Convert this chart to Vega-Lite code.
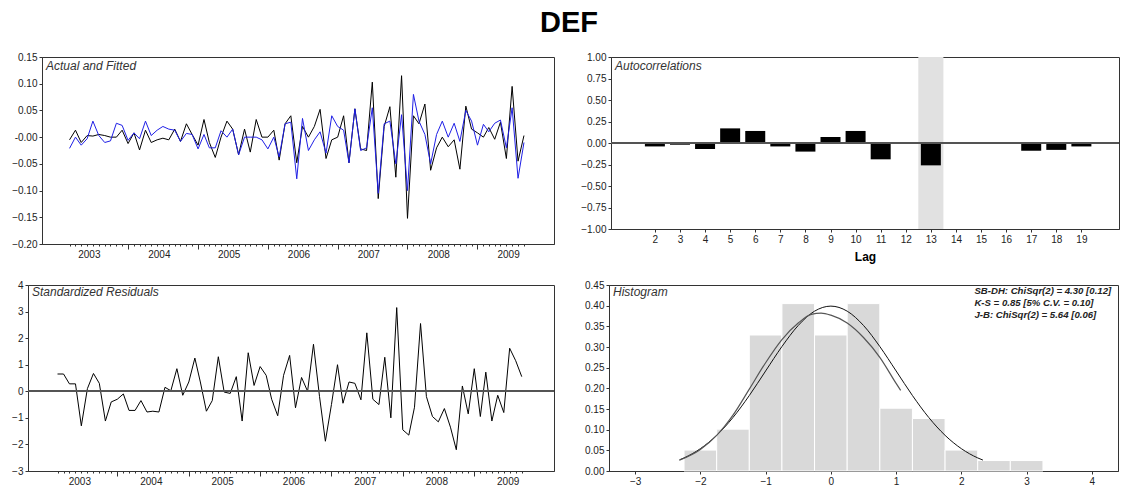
{
  "$schema": "https://vega.github.io/schema/vega-lite/v6.json",
  "background": "white",
  "padding": {"left": 0, "top": 8, "right": 5, "bottom": 5},
  "title": {"text": "DEF", "fontSize": 29, "fontWeight": "bold", "font": "Liberation Sans", "anchor": "middle", "offset": 14, "color": "#000", "dx": 9},
  "datasets": {
    "ts": [
      {"date": "2003-03-01", "actual": -0.005, "fitted": -0.021, "resid": 0.65},
      {"date": "2003-04-01", "actual": 0.013, "fitted": 0.0, "resid": 0.65},
      {"date": "2003-05-01", "actual": -0.01, "fitted": -0.015, "resid": 0.28},
      {"date": "2003-06-01", "actual": 0.003, "fitted": -0.003, "resid": 0.28},
      {"date": "2003-07-01", "actual": 0.002, "fitted": 0.03, "resid": -1.3},
      {"date": "2003-08-01", "actual": 0.005, "fitted": 0.003, "resid": 0.1},
      {"date": "2003-09-01", "actual": 0.003, "fitted": -0.01, "resid": 0.67},
      {"date": "2003-10-01", "actual": 0.0, "fitted": -0.007, "resid": 0.3},
      {"date": "2003-11-01", "actual": 0.0, "fitted": 0.026, "resid": -1.12},
      {"date": "2003-12-01", "actual": 0.013, "fitted": 0.022, "resid": -0.4},
      {"date": "2004-01-01", "actual": -0.012, "fitted": -0.006, "resid": -0.3},
      {"date": "2004-02-01", "actual": 0.008, "fitted": 0.008, "resid": -0.1},
      {"date": "2004-03-01", "actual": -0.024, "fitted": -0.003, "resid": -0.72},
      {"date": "2004-04-01", "actual": 0.013, "fitted": 0.03, "resid": -0.72},
      {"date": "2004-05-01", "actual": -0.01, "fitted": 0.003, "resid": -0.35},
      {"date": "2004-06-01", "actual": -0.005, "fitted": 0.013, "resid": -0.78},
      {"date": "2004-07-01", "actual": -0.002, "fitted": 0.02, "resid": -0.75},
      {"date": "2004-08-01", "actual": -0.005, "fitted": 0.015, "resid": -0.78},
      {"date": "2004-09-01", "actual": 0.015, "fitted": 0.013, "resid": 0.15},
      {"date": "2004-10-01", "actual": -0.008, "fitted": -0.008, "resid": 0.02},
      {"date": "2004-11-01", "actual": 0.025, "fitted": 0.007, "resid": 0.85},
      {"date": "2004-12-01", "actual": 0.005, "fitted": 0.005, "resid": -0.15},
      {"date": "2005-01-01", "actual": -0.015, "fitted": -0.022, "resid": 0.35},
      {"date": "2005-02-01", "actual": 0.033, "fitted": 0.005, "resid": 1.25},
      {"date": "2005-03-01", "actual": -0.01, "fitted": -0.02, "resid": 0.35},
      {"date": "2005-04-01", "actual": -0.038, "fitted": -0.02, "resid": -0.75},
      {"date": "2005-05-01", "actual": 0.0, "fitted": 0.012, "resid": -0.35},
      {"date": "2005-06-01", "actual": 0.03, "fitted": 0.0, "resid": 1.3},
      {"date": "2005-07-01", "actual": 0.015, "fitted": 0.015, "resid": -0.03},
      {"date": "2005-08-01", "actual": -0.033, "fitted": -0.033, "resid": -0.08},
      {"date": "2005-09-01", "actual": 0.015, "fitted": 0.0, "resid": 0.55},
      {"date": "2005-10-01", "actual": -0.028, "fitted": 0.0, "resid": -1.12},
      {"date": "2005-11-01", "actual": 0.033, "fitted": 0.0, "resid": 1.45},
      {"date": "2005-12-01", "actual": 0.0, "fitted": -0.005, "resid": 0.22},
      {"date": "2006-01-01", "actual": 0.0, "fitted": -0.022, "resid": 0.93},
      {"date": "2006-02-01", "actual": 0.013, "fitted": 0.0, "resid": 0.6},
      {"date": "2006-03-01", "actual": -0.043, "fitted": -0.037, "resid": -0.3},
      {"date": "2006-04-01", "actual": 0.025, "fitted": 0.025, "resid": -0.92},
      {"date": "2006-05-01", "actual": 0.04, "fitted": 0.028, "resid": 0.6},
      {"date": "2006-06-01", "actual": -0.048, "fitted": -0.078, "resid": 1.35},
      {"date": "2006-07-01", "actual": 0.02, "fitted": 0.035, "resid": -0.62},
      {"date": "2006-08-01", "actual": 0.0, "fitted": -0.025, "resid": 0.52},
      {"date": "2006-09-01", "actual": 0.02, "fitted": -0.005, "resid": 0.0},
      {"date": "2006-10-01", "actual": 0.052, "fitted": 0.01, "resid": 1.77},
      {"date": "2006-11-01", "actual": -0.04, "fitted": -0.03, "resid": -0.2},
      {"date": "2006-12-01", "actual": -0.005, "fitted": 0.04, "resid": -1.88},
      {"date": "2007-01-01", "actual": 0.0, "fitted": 0.02, "resid": -0.5},
      {"date": "2007-02-01", "actual": 0.04, "fitted": 0.013, "resid": 1.0},
      {"date": "2007-03-01", "actual": -0.048, "fitted": -0.048, "resid": -0.45},
      {"date": "2007-04-01", "actual": 0.053, "fitted": 0.053, "resid": 0.35},
      {"date": "2007-05-01", "actual": -0.022, "fitted": -0.025, "resid": 0.3},
      {"date": "2007-06-01", "actual": -0.025, "fitted": -0.02, "resid": -0.32},
      {"date": "2007-07-01", "actual": 0.103, "fitted": 0.055, "resid": 2.2},
      {"date": "2007-08-01", "actual": -0.115, "fitted": -0.105, "resid": -0.3},
      {"date": "2007-09-01", "actual": 0.02, "fitted": 0.025, "resid": -0.5},
      {"date": "2007-10-01", "actual": 0.057, "fitted": 0.03, "resid": 1.28},
      {"date": "2007-11-01", "actual": -0.075, "fitted": -0.05, "resid": -1.0},
      {"date": "2007-12-01", "actual": 0.115, "fitted": 0.042, "resid": 3.15},
      {"date": "2008-01-01", "actual": -0.152, "fitted": -0.1, "resid": -1.45},
      {"date": "2008-02-01", "actual": 0.04, "fitted": 0.08, "resid": -1.65},
      {"date": "2008-03-01", "actual": 0.025, "fitted": 0.03, "resid": -0.6},
      {"date": "2008-04-01", "actual": 0.062, "fitted": 0.005, "resid": 2.55},
      {"date": "2008-05-01", "actual": -0.062, "fitted": -0.05, "resid": -0.2},
      {"date": "2008-06-01", "actual": -0.02, "fitted": 0.005, "resid": -0.95},
      {"date": "2008-07-01", "actual": 0.0, "fitted": 0.03, "resid": -1.15},
      {"date": "2008-08-01", "actual": -0.018, "fitted": 0.0, "resid": -0.65},
      {"date": "2008-09-01", "actual": -0.005, "fitted": 0.026, "resid": -1.35},
      {"date": "2008-10-01", "actual": -0.06, "fitted": -0.008, "resid": -2.2},
      {"date": "2008-11-01", "actual": 0.058, "fitted": 0.05, "resid": 0.2},
      {"date": "2008-12-01", "actual": 0.015, "fitted": 0.03, "resid": -0.85},
      {"date": "2009-01-01", "actual": 0.008, "fitted": -0.015, "resid": 0.85},
      {"date": "2009-02-01", "actual": 0.0, "fitted": 0.024, "resid": -0.95},
      {"date": "2009-03-01", "actual": 0.018, "fitted": 0.01, "resid": 0.72},
      {"date": "2009-04-01", "actual": -0.004, "fitted": 0.026, "resid": -1.12},
      {"date": "2009-05-01", "actual": 0.028, "fitted": 0.032, "resid": -0.15},
      {"date": "2009-06-01", "actual": -0.04, "fitted": -0.02, "resid": -0.8},
      {"date": "2009-07-01", "actual": 0.095, "fitted": 0.055, "resid": 1.62},
      {"date": "2009-08-01", "actual": -0.045, "fitted": -0.077, "resid": 1.15},
      {"date": "2009-09-01", "actual": 0.003, "fitted": -0.01, "resid": 0.55}
    ],
    "acf": [
      {"lag": 2, "acf": -0.04}, {"lag": 3, "acf": -0.02}, {"lag": 4, "acf": -0.07},
      {"lag": 5, "acf": 0.17}, {"lag": 6, "acf": 0.14}, {"lag": 7, "acf": -0.04},
      {"lag": 8, "acf": -0.1}, {"lag": 9, "acf": 0.07}, {"lag": 10, "acf": 0.14},
      {"lag": 11, "acf": -0.19}, {"lag": 12, "acf": 0.0}, {"lag": 13, "acf": -0.26},
      {"lag": 14, "acf": 0.0}, {"lag": 15, "acf": 0.0}, {"lag": 16, "acf": 0.0},
      {"lag": 17, "acf": -0.09}, {"lag": 18, "acf": -0.08}, {"lag": 19, "acf": -0.04}
    ],
    "hist": [
      {"lo": -2.25, "hi": -1.75, "density": 0.0506},
      {"lo": -1.75, "hi": -1.25, "density": 0.1013},
      {"lo": -1.25, "hi": -0.75, "density": 0.329},
      {"lo": -0.75, "hi": -0.25, "density": 0.405},
      {"lo": -0.25, "hi": 0.25, "density": 0.329},
      {"lo": 0.25, "hi": 0.75, "density": 0.405},
      {"lo": 0.75, "hi": 1.25, "density": 0.152},
      {"lo": 1.25, "hi": 1.75, "density": 0.127},
      {"lo": 1.75, "hi": 2.25, "density": 0.0506},
      {"lo": 2.25, "hi": 2.75, "density": 0.0253},
      {"lo": 2.75, "hi": 3.25, "density": 0.0253}
    ],
    "normal": [
      {"x": -2.32, "d": 0.027}, {"x": -2.25, "d": 0.0317}, {"x": -2.0, "d": 0.054},
      {"x": -1.75, "d": 0.0863}, {"x": -1.5, "d": 0.1295}, {"x": -1.25, "d": 0.1826},
      {"x": -1.0, "d": 0.242}, {"x": -0.75, "d": 0.3011}, {"x": -0.5, "d": 0.3521},
      {"x": -0.25, "d": 0.3867}, {"x": 0.0, "d": 0.3989}, {"x": 0.25, "d": 0.3867},
      {"x": 0.5, "d": 0.3521}, {"x": 0.75, "d": 0.3011}, {"x": 1.0, "d": 0.242},
      {"x": 1.25, "d": 0.1826}, {"x": 1.5, "d": 0.1295}, {"x": 1.75, "d": 0.0863},
      {"x": 2.0, "d": 0.054}, {"x": 2.25, "d": 0.0317}, {"x": 2.33, "d": 0.0264}
    ],
    "kernel": [
      {"x": -2.32, "d": 0.026}, {"x": -2.0, "d": 0.052}, {"x": -1.75, "d": 0.086},
      {"x": -1.5, "d": 0.135}, {"x": -1.25, "d": 0.198}, {"x": -1.0, "d": 0.262},
      {"x": -0.75, "d": 0.318}, {"x": -0.5, "d": 0.358}, {"x": -0.3, "d": 0.379},
      {"x": -0.15, "d": 0.382}, {"x": 0.0, "d": 0.377}, {"x": 0.25, "d": 0.358},
      {"x": 0.5, "d": 0.323}, {"x": 0.75, "d": 0.275}, {"x": 1.0, "d": 0.212},
      {"x": 1.07, "d": 0.195}
    ],
    "notes": [
      {"note": "SB-DH: ChiSqr(2) = 4.30 [0.12]\nK-S = 0.85 [5% C.V. = 0.10]\nJ-B: ChiSqr(2) = 5.64 [0.06]"}
    ],
    "band": [{"lo": 12.5, "hi": 13.5}]
  },
  "columns": 3,
  "align": "none",
  "spacing": {"row": 14, "column": 2},
  "concat": [
    {
      "width": 1, "height": 1, "view": {"stroke": null},
      "data": {"name": "band"},
      "mark": {"type": "point", "opacity": 0, "size": 0, "strokeWidth": 0},
      "encoding": {}
    },
    {
      "width": 512,
      "height": 187,
      "title": {"text": "Actual and Fitted", "anchor": "start", "frame": "group", "orient": "top", "offset": -21, "dx": 4, "fontSize": 12, "fontStyle": "italic", "fontWeight": "normal", "color": "#333", "font": "Liberation Sans"},
      "data": {"name": "ts"},
      "encoding": {
        "x": {
          "field": "date", "type": "temporal",
          "scale": {"type": "utc", "domain": [{"year": 2002, "month": 10, "date": 8, "utc": true}, {"year": 2010, "month": 2, "date": 5, "utc": true}]},
          "axis": {
            "title": null, "grid": false, "labelOverlap": false, "labelFlush": false, "labelPadding": 3, "labelOffset": -4, "minExtent": 20, "maxExtent": 20, "tickCount": 200,
            "values": [
              {"year": 2003, "month": 3, "utc": true}, {"year": 2003, "month": 4, "utc": true}, {"year": 2003, "month": 5, "utc": true}, {"year": 2003, "month": 6, "utc": true}, {"year": 2003, "month": 7, "utc": true}, {"year": 2003, "month": 8, "utc": true}, {"year": 2003, "month": 9, "utc": true}, {"year": 2003, "month": 10, "utc": true}, {"year": 2003, "month": 11, "utc": true}, {"year": 2003, "month": 12, "utc": true},
              {"year": 2004, "month": 1, "utc": true}, {"year": 2004, "month": 2, "utc": true}, {"year": 2004, "month": 3, "utc": true}, {"year": 2004, "month": 4, "utc": true}, {"year": 2004, "month": 5, "utc": true}, {"year": 2004, "month": 6, "utc": true}, {"year": 2004, "month": 7, "utc": true}, {"year": 2004, "month": 8, "utc": true}, {"year": 2004, "month": 9, "utc": true}, {"year": 2004, "month": 10, "utc": true}, {"year": 2004, "month": 11, "utc": true}, {"year": 2004, "month": 12, "utc": true},
              {"year": 2005, "month": 1, "utc": true}, {"year": 2005, "month": 2, "utc": true}, {"year": 2005, "month": 3, "utc": true}, {"year": 2005, "month": 4, "utc": true}, {"year": 2005, "month": 5, "utc": true}, {"year": 2005, "month": 6, "utc": true}, {"year": 2005, "month": 7, "utc": true}, {"year": 2005, "month": 8, "utc": true}, {"year": 2005, "month": 9, "utc": true}, {"year": 2005, "month": 10, "utc": true}, {"year": 2005, "month": 11, "utc": true}, {"year": 2005, "month": 12, "utc": true},
              {"year": 2006, "month": 1, "utc": true}, {"year": 2006, "month": 2, "utc": true}, {"year": 2006, "month": 3, "utc": true}, {"year": 2006, "month": 4, "utc": true}, {"year": 2006, "month": 5, "utc": true}, {"year": 2006, "month": 6, "utc": true}, {"year": 2006, "month": 7, "utc": true}, {"year": 2006, "month": 8, "utc": true}, {"year": 2006, "month": 9, "utc": true}, {"year": 2006, "month": 10, "utc": true}, {"year": 2006, "month": 11, "utc": true}, {"year": 2006, "month": 12, "utc": true},
              {"year": 2007, "month": 1, "utc": true}, {"year": 2007, "month": 2, "utc": true}, {"year": 2007, "month": 3, "utc": true}, {"year": 2007, "month": 4, "utc": true}, {"year": 2007, "month": 5, "utc": true}, {"year": 2007, "month": 6, "utc": true}, {"year": 2007, "month": 7, "utc": true}, {"year": 2007, "month": 8, "utc": true}, {"year": 2007, "month": 9, "utc": true}, {"year": 2007, "month": 10, "utc": true}, {"year": 2007, "month": 11, "utc": true}, {"year": 2007, "month": 12, "utc": true},
              {"year": 2008, "month": 1, "utc": true}, {"year": 2008, "month": 2, "utc": true}, {"year": 2008, "month": 3, "utc": true}, {"year": 2008, "month": 4, "utc": true}, {"year": 2008, "month": 5, "utc": true}, {"year": 2008, "month": 6, "utc": true}, {"year": 2008, "month": 7, "utc": true}, {"year": 2008, "month": 8, "utc": true}, {"year": 2008, "month": 9, "utc": true}, {"year": 2008, "month": 10, "utc": true}, {"year": 2008, "month": 11, "utc": true}, {"year": 2008, "month": 12, "utc": true},
              {"year": 2009, "month": 1, "utc": true}, {"year": 2009, "month": 2, "utc": true}, {"year": 2009, "month": 3, "utc": true}, {"year": 2009, "month": 4, "utc": true}, {"year": 2009, "month": 5, "utc": true}, {"year": 2009, "month": 6, "utc": true}, {"year": 2009, "month": 7, "utc": true}, {"year": 2009, "month": 8, "utc": true}, {"year": 2009, "month": 9, "utc": true}
            ],
            "labelExpr": "utcmonth(datum.value) == 6 ? utcFormat(datum.value, '%Y') : ''",
            "tickSize": {"condition": {"test": "utcmonth(datum.value) == 0", "value": 5}, "value": 2}
          }
        }
      },
      "layer": [
        {
          "mark": {"type": "line", "color": "#000000", "strokeWidth": 1},
          "encoding": {
            "y": {"field": "actual", "type": "quantitative", "scale": {"domain": [-0.2, 0.15], "nice": false, "zero": false},
              "axis": {"title": null, "grid": false, "labelOverlap": false, "tickCount": 100, "values": [-0.2, -0.15, -0.1, -0.05, 0, 0.05, 0.1, 0.15], "labelExpr": "datum.value == 0 ? '-0.00' : format(datum.value, '.2f')", "minExtent": 38, "maxExtent": 38}}
          }
        },
        {
          "mark": {"type": "line", "color": "#1f1fe6", "strokeWidth": 1},
          "encoding": {
            "y": {"field": "fitted", "type": "quantitative", "scale": {"domain": [-0.2, 0.15], "nice": false, "zero": false}}
          }
        },
        {
          "mark": {"type": "rule", "color": "#555555", "strokeWidth": 1.3},
          "encoding": {"y": {"datum": 0, "type": "quantitative"}}
        }
      ]
    },
    {
      "width": 508,
      "height": 172,
      "title": {"text": "Autocorrelations", "anchor": "start", "frame": "group", "orient": "top", "offset": -21, "dx": 4, "fontSize": 12, "fontStyle": "italic", "fontWeight": "normal", "color": "#333", "font": "Liberation Sans"},
      "layer": [
        {
          "data": {"name": "band"},
          "mark": {"type": "rect", "color": "#e1e1e1"},
          "encoding": {
            "x": {"field": "lo", "type": "quantitative", "scale": {"domain": [0.45, 20.3], "nice": false, "zero": false}},
            "x2": {"field": "hi"}
          }
        },
        {
          "data": {"name": "acf"},
          "mark": {"type": "bar", "color": "#000000", "size": 20, "orient": "vertical"},
          "encoding": {
            "x": {"field": "lag", "type": "quantitative", "scale": {"domain": [0.45, 20.3], "nice": false, "zero": false},
              "axis": {"title": "Lag", "titleFontSize": 12, "titleFontWeight": "bold", "titleColor": "#000", "titlePadding": 4, "grid": false, "labelOverlap": false, "tickCount": 100, "values": [2, 3, 4, 5, 6, 7, 8, 9, 10, 11, 12, 13, 14, 15, 16, 17, 18, 19], "format": "d", "labelFlush": false, "minExtent": 18, "maxExtent": 18}},
            "y": {"field": "acf", "type": "quantitative", "scale": {"domain": [-1, 1], "nice": false},
              "axis": {"title": null, "grid": false, "labelOverlap": false, "tickCount": 100, "values": [-1, -0.75, -0.5, -0.25, 0, 0.25, 0.5, 0.75, 1], "format": ".2f", "minExtent": 38, "maxExtent": 38}}
          }
        },
        {
          "data": {"name": "acf"},
          "mark": {"type": "rule", "color": "#555555", "strokeWidth": 1.3},
          "encoding": {"y": {"datum": 0, "type": "quantitative"}}
        }
      ]
    },
    {
      "width": 1, "height": 1, "view": {"stroke": null},
      "data": {"name": "band"},
      "mark": {"type": "point", "opacity": 0, "size": 0, "strokeWidth": 0},
      "encoding": {}
    },
    {
      "width": 526,
      "height": 186,
      "title": {"text": "Standardized Residuals", "anchor": "start", "frame": "group", "orient": "top", "offset": -19, "dx": 4, "fontSize": 12, "fontStyle": "italic", "fontWeight": "normal", "color": "#333", "font": "Liberation Sans"},
      "data": {"name": "ts"},
      "layer": [
        {
          "mark": {"type": "line", "color": "#000000", "strokeWidth": 1},
          "encoding": {
            "x": {
              "field": "date", "type": "temporal",
              "scale": {"type": "utc", "domain": [{"year": 2002, "month": 10, "date": 1, "utc": true}, {"year": 2010, "month": 2, "date": 13, "utc": true}]},
              "axis": {
                "title": null, "grid": false, "labelOverlap": false, "labelFlush": false, "labelPadding": 3, "labelOffset": -2, "tickCount": 200,
                "values": [
                  {"year": 2003, "month": 3, "utc": true}, {"year": 2003, "month": 4, "utc": true}, {"year": 2003, "month": 5, "utc": true}, {"year": 2003, "month": 6, "utc": true}, {"year": 2003, "month": 7, "utc": true}, {"year": 2003, "month": 8, "utc": true}, {"year": 2003, "month": 9, "utc": true}, {"year": 2003, "month": 10, "utc": true}, {"year": 2003, "month": 11, "utc": true}, {"year": 2003, "month": 12, "utc": true},
                  {"year": 2004, "month": 1, "utc": true}, {"year": 2004, "month": 2, "utc": true}, {"year": 2004, "month": 3, "utc": true}, {"year": 2004, "month": 4, "utc": true}, {"year": 2004, "month": 5, "utc": true}, {"year": 2004, "month": 6, "utc": true}, {"year": 2004, "month": 7, "utc": true}, {"year": 2004, "month": 8, "utc": true}, {"year": 2004, "month": 9, "utc": true}, {"year": 2004, "month": 10, "utc": true}, {"year": 2004, "month": 11, "utc": true}, {"year": 2004, "month": 12, "utc": true},
                  {"year": 2005, "month": 1, "utc": true}, {"year": 2005, "month": 2, "utc": true}, {"year": 2005, "month": 3, "utc": true}, {"year": 2005, "month": 4, "utc": true}, {"year": 2005, "month": 5, "utc": true}, {"year": 2005, "month": 6, "utc": true}, {"year": 2005, "month": 7, "utc": true}, {"year": 2005, "month": 8, "utc": true}, {"year": 2005, "month": 9, "utc": true}, {"year": 2005, "month": 10, "utc": true}, {"year": 2005, "month": 11, "utc": true}, {"year": 2005, "month": 12, "utc": true},
                  {"year": 2006, "month": 1, "utc": true}, {"year": 2006, "month": 2, "utc": true}, {"year": 2006, "month": 3, "utc": true}, {"year": 2006, "month": 4, "utc": true}, {"year": 2006, "month": 5, "utc": true}, {"year": 2006, "month": 6, "utc": true}, {"year": 2006, "month": 7, "utc": true}, {"year": 2006, "month": 8, "utc": true}, {"year": 2006, "month": 9, "utc": true}, {"year": 2006, "month": 10, "utc": true}, {"year": 2006, "month": 11, "utc": true}, {"year": 2006, "month": 12, "utc": true},
                  {"year": 2007, "month": 1, "utc": true}, {"year": 2007, "month": 2, "utc": true}, {"year": 2007, "month": 3, "utc": true}, {"year": 2007, "month": 4, "utc": true}, {"year": 2007, "month": 5, "utc": true}, {"year": 2007, "month": 6, "utc": true}, {"year": 2007, "month": 7, "utc": true}, {"year": 2007, "month": 8, "utc": true}, {"year": 2007, "month": 9, "utc": true}, {"year": 2007, "month": 10, "utc": true}, {"year": 2007, "month": 11, "utc": true}, {"year": 2007, "month": 12, "utc": true},
                  {"year": 2008, "month": 1, "utc": true}, {"year": 2008, "month": 2, "utc": true}, {"year": 2008, "month": 3, "utc": true}, {"year": 2008, "month": 4, "utc": true}, {"year": 2008, "month": 5, "utc": true}, {"year": 2008, "month": 6, "utc": true}, {"year": 2008, "month": 7, "utc": true}, {"year": 2008, "month": 8, "utc": true}, {"year": 2008, "month": 9, "utc": true}, {"year": 2008, "month": 10, "utc": true}, {"year": 2008, "month": 11, "utc": true}, {"year": 2008, "month": 12, "utc": true},
                  {"year": 2009, "month": 1, "utc": true}, {"year": 2009, "month": 2, "utc": true}, {"year": 2009, "month": 3, "utc": true}, {"year": 2009, "month": 4, "utc": true}, {"year": 2009, "month": 5, "utc": true}, {"year": 2009, "month": 6, "utc": true}, {"year": 2009, "month": 7, "utc": true}, {"year": 2009, "month": 8, "utc": true}, {"year": 2009, "month": 9, "utc": true}
                ],
                "labelExpr": "utcmonth(datum.value) == 6 ? utcFormat(datum.value, '%Y') : ''",
                "tickSize": {"condition": {"test": "utcmonth(datum.value) == 0", "value": 5}, "value": 2}
              }
            },
            "y": {"field": "resid", "type": "quantitative", "scale": {"domain": [-3, 4], "nice": false},
              "axis": {"title": null, "grid": false, "labelOverlap": false, "tickCount": 100, "values": [-3, -2, -1, 0, 1, 2, 3, 4], "format": "d", "minExtent": 24, "maxExtent": 24}}
          }
        },
        {
          "mark": {"type": "rule", "color": "#555555", "strokeWidth": 1.3},
          "encoding": {"y": {"datum": 0, "type": "quantitative"}}
        }
      ]
    },
    {
      "width": 509,
      "height": 186,
      "title": {"text": "Histogram", "anchor": "start", "frame": "group", "orient": "top", "offset": -19, "dx": 4, "fontSize": 12, "fontStyle": "italic", "fontWeight": "normal", "color": "#333", "font": "Liberation Sans"},
      "layer": [
        {
          "data": {"name": "hist"},
          "mark": {"type": "rect", "fill": "#d9d9d9", "stroke": "#ffffff", "strokeWidth": 1},
          "encoding": {
            "x": {"field": "lo", "type": "quantitative", "scale": {"domain": [-3.4, 4.4], "nice": false, "zero": false},
              "axis": {"title": null, "grid": false, "labelOverlap": false, "tickCount": 100, "values": [-3, -2, -1, 0, 1, 2, 3, 4], "format": "d", "labelFlush": false}},
            "x2": {"field": "hi"},
            "y": {"field": "density", "type": "quantitative", "scale": {"domain": [0, 0.45], "nice": false},
              "axis": {"title": null, "grid": false, "labelOverlap": false, "tickCount": 100, "values": [0, 0.05, 0.1, 0.15, 0.2, 0.25, 0.3, 0.35, 0.4, 0.45], "format": ".2f", "minExtent": 50, "maxExtent": 50}},
            "y2": {"datum": 0}
          }
        },
        {
          "data": {"name": "normal"},
          "mark": {"type": "line", "color": "#111111", "strokeWidth": 1, "interpolate": "monotone"},
          "encoding": {
            "x": {"field": "x", "type": "quantitative"},
            "y": {"field": "d", "type": "quantitative"}
          }
        },
        {
          "data": {"name": "kernel"},
          "mark": {"type": "line", "color": "#555555", "strokeWidth": 1.2, "interpolate": "monotone"},
          "encoding": {
            "x": {"field": "x", "type": "quantitative"},
            "y": {"field": "d", "type": "quantitative"}
          }
        },
        {
          "data": {"name": "notes"},
          "mark": {"type": "text", "align": "left", "baseline": "top", "lineBreak": "\n", "lineHeight": 12, "fontSize": 9.6, "fontWeight": "bold", "fontStyle": "italic", "color": "#222", "font": "Liberation Sans"},
          "encoding": {
            "text": {"field": "note"},
            "x": {"datum": 2.2, "type": "quantitative"},
            "y": {"datum": 0.447, "type": "quantitative"}
          }
        }
      ]
    }
  ],
  "config": {
    "font": "Liberation Sans",
    "view": {"stroke": "#333333", "strokeWidth": 1},
    "axis": {"labelFont": "Liberation Sans", "labelFontSize": 10, "labelColor": "#222222", "tickColor": "#333333", "domainColor": "#333333", "tickSize": 3, "labelPadding": 2, "titleFont": "Liberation Sans", "grid": false, "labelOverlap": false}
  }
}
